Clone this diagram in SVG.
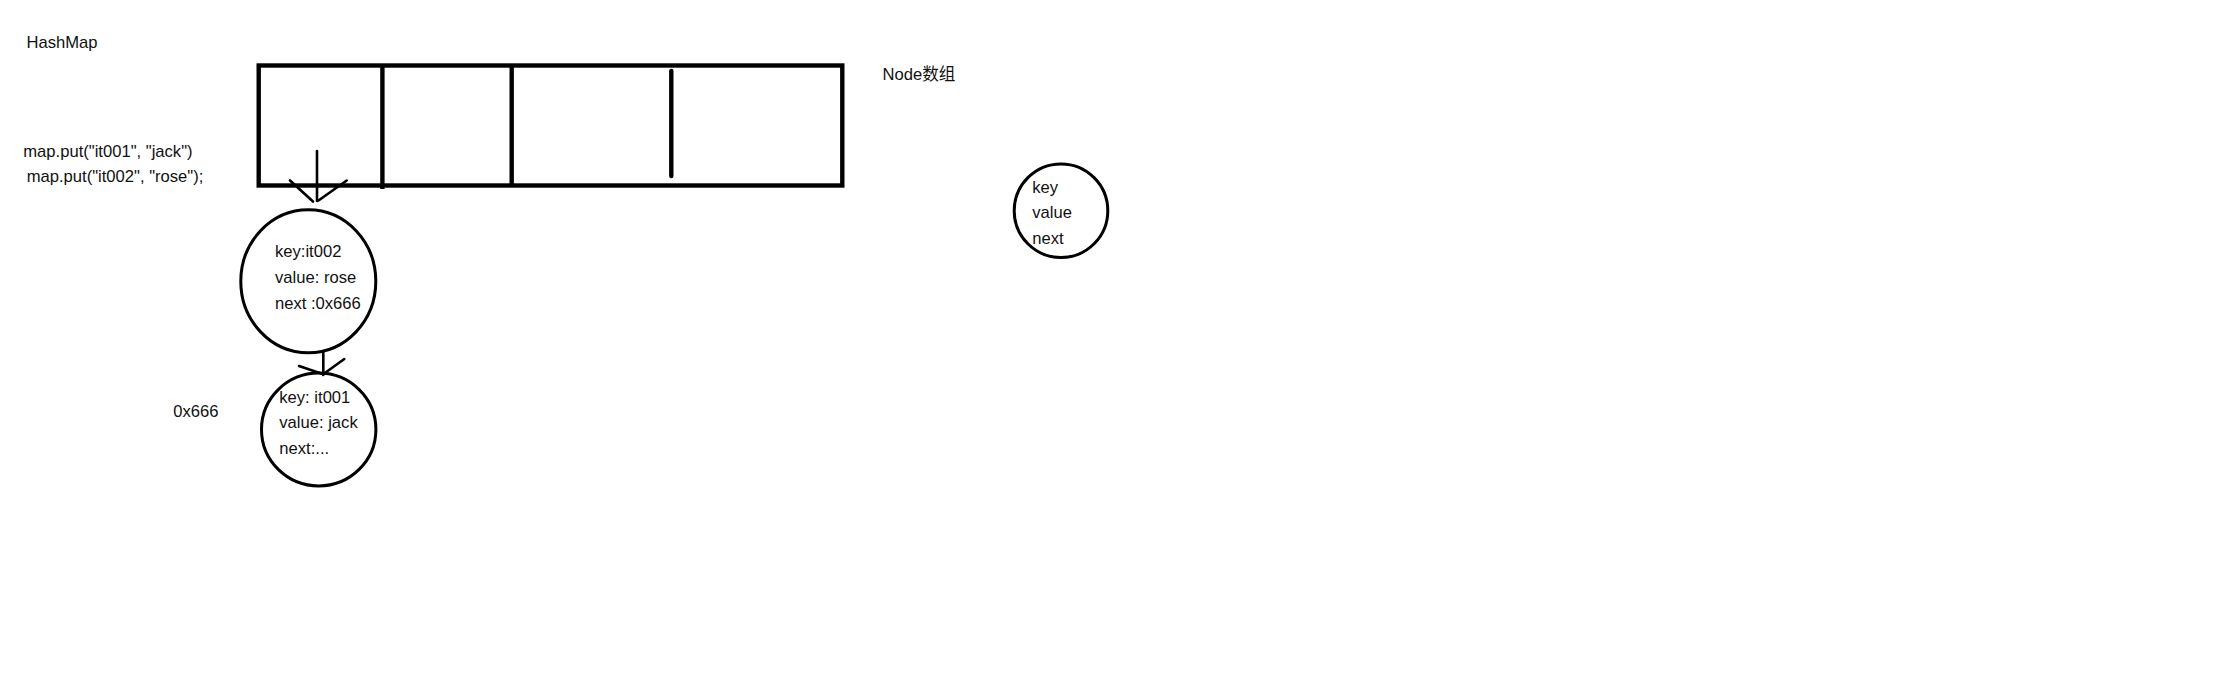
<svg xmlns="http://www.w3.org/2000/svg" width="2220" height="683" viewBox="0 0 2220 683">
<style>
text{font-family:"Liberation Sans","Noto Sans CJK SC",sans-serif;font-size:16.6px;fill:#111}
.thick{fill:none;stroke:#000;stroke-width:4.4}
.node{fill:none;stroke:#000;stroke-width:3}
.conn{fill:none;stroke:#000;stroke-width:2.6;stroke-linecap:round}
</style>
<rect width="2220" height="683" fill="#fff"/>
<g id="labels">
<text x="26.5" y="48.3">HashMap</text>
<text x="23.3" y="156.7">map.put("it001", "jack")</text>
<text x="26.7" y="182.3">map.put("it002", "rose");</text>
<text x="882.5" y="80">Node数组</text>
<text x="173.3" y="416.7">0x666</text>
</g>
<g id="node-array">
<rect class="thick" x="258.7" y="65.5" width="583.6" height="120"/>
<line class="thick" x1="382.4" y1="65.5" x2="382.4" y2="189"/>
<line class="thick" x1="511.7" y1="65.5" x2="511.7" y2="185.5"/>
<line class="thick" x1="671.3" y1="71" x2="671.3" y2="176" stroke-linecap="round"/>
</g>
<g id="node-it002">
<ellipse class="node" cx="308.3" cy="281.3" rx="67.5" ry="71.5"/>
<text x="275" y="257.3">key:it002</text>
<text x="275" y="283.3">value: rose</text>
<text x="275" y="308.6">next :0x666</text>
</g>
<g id="node-it001">
<ellipse class="node" cx="318.7" cy="429.5" rx="57.2" ry="56.4"/>
<text x="279.3" y="402.7">key: it001</text>
<text x="279.3" y="428.3">value: jack</text>
<text x="279.3" y="454">next:...</text>
</g>
<g id="node-template">
<circle class="node" cx="1061" cy="210.7" r="46.8"/>
<text x="1032.3" y="192.7">key</text>
<text x="1032.3" y="218.3">value</text>
<text x="1032.3" y="244">next</text>
</g>
<g id="connectors">
<line class="conn" x1="317" y1="151" x2="317" y2="201"/>
<line class="conn" x1="290" y1="180.5" x2="313" y2="201.5"/>
<line class="conn" x1="346.7" y1="180.5" x2="318.5" y2="200.5"/>
<line class="conn" x1="323.3" y1="352" x2="323.3" y2="375"/>
<line class="conn" x1="299" y1="366" x2="322.7" y2="374"/>
<line class="conn" x1="344.3" y1="359" x2="323.5" y2="374"/>
</g>
</svg>
